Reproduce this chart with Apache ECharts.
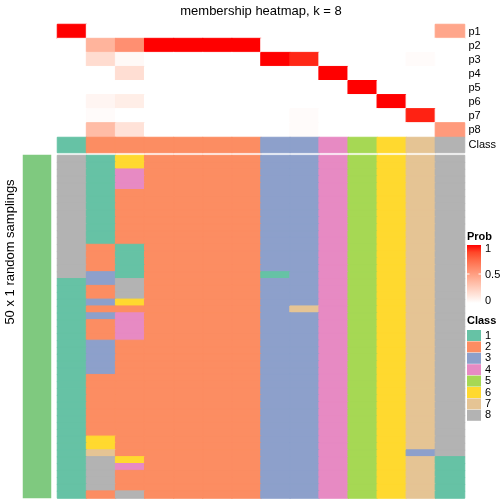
<!DOCTYPE html>
<html><head><meta charset="utf-8">
<script src="https://cdn.jsdelivr.net/npm/echarts@6/dist/echarts.min.js"></script>
<style>html,body{margin:0;padding:0;background:#fff}#c{width:504px;height:504px}</style>
</head><body><div id="c"></div>
<script>
// ---- data ----
const columns = ['c1','c2','c3','c4','c5','c6','c7','c8','c9','c10','c11','c12','c13','c14'];
const probRows = ['p1','p2','p3','p4','p5','p6','p7','p8'];
const p1 = [1,0,0,0,0,0,0,0,0,0,0,0,0,0.46];
const p2 = [0,0.39,0.57,1,1,1,1,0,0,0,0,0,0,0];
const p3 = [0,0.18,0.03,0,0,0,0,1,0.93,0,0,0,0.02,0];
const p4 = [0,0,0.17,0,0,0,0,0,0,1,0,0,0,0];
const p5 = [0,0,0,0,0,0,0,0,0,0,1,0,0,0];
const p6 = [0,0.05,0.09,0,0,0,0,0,0,0,0,1,0,0];
const p7 = [0,0.02,0,0,0,0,0,0,0.02,0,0,0,0.94,0];
const p8 = [0,0.35,0.15,0,0,0,0,0,0.02,0,0,0,0,0.52];
const columnClass = [1,2,2,2,2,2,2,3,3,4,5,6,7,8];
// one string per sampling row, one digit (class) per column
const samplingRows = [
 "81622223345678","81622223345678","81422223345678","81422223345678","81422223345678",
 "81222223345678","81222223345678","81222223345678","81222223345678","81222223345678",
 "81222223345678","81222223345678","81222223345678","82122223345678","82122223345678",
 "82122223345678","82122223345678","83122221345678","13822223345678","12822223345678",
 "12822223345678","13622223345678","12222223745678","13422223345678","12422223345678",
 "12422223345678","12422223345678","13222223345678","13222223345678","13222223345678",
 "13222223345678","13222223345678","12222223345678","12222223345678","12222223345678",
 "12222223345678","12222223345678","12222223345678","12222223345678","12222223345678",
 "12222223345678","16222223345678","16222223345678","17222223345638","18622223345671",
 "18422223345671","18222223345671","18222223345671","18222223345671","12822223345671"
];
const classLabels = ['1','2','3','4','5','6','7','8'];
const classColors = ['#66C2A5','#FC8D62','#8DA0CB','#E78AC3','#A6D854','#FFD92F','#E5C494','#B3B3B3'];
const probTicks = ['1','0.5','0'];
const probStops = ['#FFFFFF','#FFE7DE','#FFCFBF','#FFB7A0','#FF9E81','#FF8464','#FF6846','#FF4628','#FF0000'];
const annotationLabel = 'top 1000 rows';

// ---- build ----
// each cell gets a hairline border of its own colour so neighbouring cells join without seams
const seam = (col)=>({borderColor:col, borderWidth:1});
const probMatrix = [p1,p2,p3,p4,p5,p6,p7,p8];
const probData = [];
probMatrix.forEach((row,i)=>row.forEach((v,j)=>probData.push({value:[j,i,v], itemStyle:seam(echarts.color.lerp(v, probStops))})));
const classData = columnClass.map((c,j)=>({value:[j,0,c], itemStyle:seam(classColors[c-1])}));
const samplingData = [];
samplingRows.forEach((s,r)=>{ for(let j=0;j<s.length;j++){ const c=+s[j]; samplingData.push({value:[j,r,c], itemStyle:seam(classColors[c-1])}); } });
const sampIdx = samplingRows.map((_,i)=>String(i));

const FONT = "'Liberation Sans', Arial, Helvetica, sans-serif";
const hiddenAxis = (extra)=>Object.assign({type:'category', show:false}, extra);
const rightLabelAxis = (data, gi)=>({type:'category', data, gridIndex:gi, inverse:true, position:'right',
  axisLine:{show:false}, axisTick:{show:false}, splitLine:{show:false},
  axisLabel:{show:true, interval:0, fontSize:11, color:'#000', margin:4, fontFamily:FONT}});

const L = 57.5, W = 407;
const grad = {type:'linear', x:0, y:1, x2:0, y2:0, colorStops: probStops.map((c,i)=>({offset:i/(probStops.length-1), color:c}))};

const option = {
  animation:false,
  textStyle:{fontFamily:FONT},
  grid:[
    {left:L, top:24.5, width:W, height:112.5, outerBoundsMode:'none'},
    {left:L, top:137.5, width:W, height:15, outerBoundsMode:'none'},
    {left:L, top:155.5, width:W, height:342.5, outerBoundsMode:'none'},
    {left:23, top:155, width:28, height:343, outerBoundsMode:'none'}
  ],
  xAxis:[
    hiddenAxis({data:columns, gridIndex:0}),
    hiddenAxis({data:columns, gridIndex:1}),
    hiddenAxis({data:columns, gridIndex:2}),
    hiddenAxis({data:['a'], gridIndex:3})
  ],
  yAxis:[
    rightLabelAxis(probRows,0),
    rightLabelAxis(['Class'],1),
    hiddenAxis({data:sampIdx, gridIndex:2, inverse:true}),
    hiddenAxis({data:[annotationLabel], gridIndex:3})
  ],
  visualMap:[
    {type:'continuous', min:0, max:1, seriesIndex:0, dimension:2, show:false, inRange:{color:probStops}},
    {type:'piecewise', seriesIndex:[1,2], dimension:2, show:true, orient:'vertical', inverse:true, align:'left',
     left:467, top:330, itemWidth:14, itemHeight:11, itemGap:0.4, itemSymbol:'rect', textGap:4,
     selectedMode:false, hoverLink:false, padding:0,
     textStyle:{fontSize:11, color:'#000', fontFamily:FONT},
     pieces: classLabels.map((l,i)=>({value:i+1, label:l, color:classColors[i]}))}
  ],
  series:[
    {type:'heatmap', xAxisIndex:0, yAxisIndex:0, data:probData, emphasis:{disabled:true}, progressive:0},
    {type:'heatmap', xAxisIndex:1, yAxisIndex:1, data:classData, emphasis:{disabled:true}, progressive:0},
    {type:'heatmap', xAxisIndex:2, yAxisIndex:2, data:samplingData, emphasis:{disabled:true}, progressive:0},
    {type:'heatmap', xAxisIndex:3, yAxisIndex:3, data:[{value:[0,0,1], itemStyle:{color:'#7FC97F'}}], emphasis:{disabled:true}}
  ],
  graphic:[
    {type:'text', x:261, y:11, style:{text:'membership heatmap, k = 8', fontSize:13, fill:'#000', align:'center', verticalAlign:'middle', fontFamily:FONT}},
    {type:'text', x:10, y:252, rotation:Math.PI/2, style:{text:'50 x 1 random samplings', fontSize:13, fill:'#000', align:'center', verticalAlign:'middle', fontFamily:FONT}},
    {type:'text', x:37, y:326.5, rotation:Math.PI/2, style:{text:annotationLabel, fontSize:10, fill:'#000', align:'center', verticalAlign:'middle', fontFamily:FONT}},
    {type:'text', x:467, y:237, style:{text:'Prob', fontSize:11, fontWeight:'bold', fill:'#000', verticalAlign:'middle', fontFamily:FONT}},
    {type:'rect', shape:{x:467, y:245, width:14, height:58}, style:{fill:grad}},
    {type:'line', shape:{x1:467, y1:274, x2:469.5, y2:274}, style:{stroke:'#fff', lineWidth:1}},
    {type:'line', shape:{x1:478.5, y1:274, x2:481, y2:274}, style:{stroke:'#fff', lineWidth:1}},
    {type:'text', x:485, y:249, style:{text:probTicks[0], fontSize:11, fill:'#000', verticalAlign:'middle', fontFamily:FONT}},
    {type:'text', x:485, y:275, style:{text:probTicks[1], fontSize:11, fill:'#000', verticalAlign:'middle', fontFamily:FONT}},
    {type:'text', x:485, y:301, style:{text:probTicks[2], fontSize:11, fill:'#000', verticalAlign:'middle', fontFamily:FONT}},
    {type:'text', x:467, y:321, style:{text:'Class', fontSize:11, fontWeight:'bold', fill:'#000', verticalAlign:'middle', fontFamily:FONT}}
  ]
};
const chart = echarts.init(document.getElementById('c'), null, {renderer:'canvas'});
chart.setOption(option);
</script></body></html>
